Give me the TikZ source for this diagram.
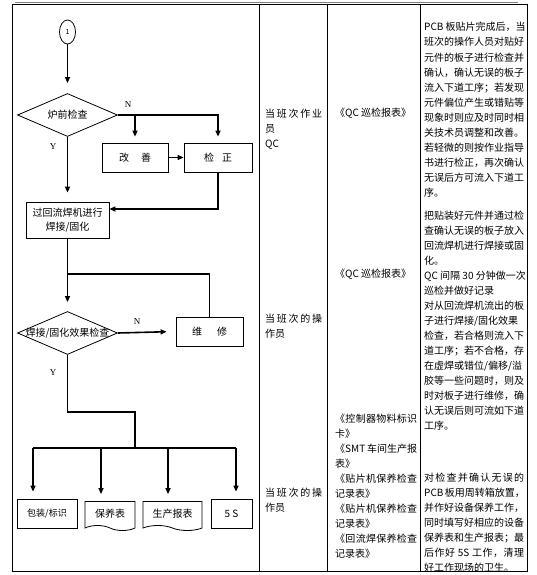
\documentclass[tikz,border=0pt]{standalone}
\usepackage{fontspec}
\setmainfont{Noto Sans CJK SC}
\newfontfamily\ynfont{Liberation Serif}
\usetikzlibrary{arrows.meta,shapes.geometric,shapes.symbols}
\makeatletter
\newcommand{\spreadto}[2]{\makebox[#1][s]{\@tfor\spreaditem:=#2\do{\spreaditem\hfil}\unskip}}
\makeatother

\begin{document}
\begin{tikzpicture}[x=1pt,y=-1pt,
        every node/.style={font=\fontsize{10}{15}\selectfont},
        flow/.style={line width=1.6pt},
        arr/.style={flow,-{Triangle[length=6pt,width=5pt]}},
        box/.style={draw,line width=0.8pt,minimum height=29pt,inner sep=0pt},
        doc/.style={box,tape,tape bend top=none,tape bend bottom=out and in,tape bend height=5pt},
        dec/.style={draw,line width=0.8pt,diamond,aspect=2.3,minimum width=100pt,minimum height=43pt,inner sep=0pt},
        ynlabel/.style={font=\ynfont\fontsize{9}{9}\selectfont},
        cell/.style={anchor=base west,align=left,inner sep=0pt}]
        \useasboundingbox (0,0) rectangle (537,575);

        % table frame
        \draw[gray,line width=1.5pt] (15,2.5) -- (518,2.5);
        \draw[line width=0.8pt] (12,4.5) rectangle (527,571);
        \foreach \x in {259,327,420}
            \draw[line width=0.8pt] (\x,4.5) -- (\x,571);

        % flow chart
        \node[ellipse,draw,line width=0.8pt,minimum width=16pt,minimum height=24pt,inner sep=0pt,font=\fontsize{7}{7}\selectfont] (start) at (67.5,32) {1};
        \node[dec] (chk1) at (67.5,115) {炉前检查};
        \node[box,minimum width=66pt] (fix) at (135,157.5) {改\hspace{12pt}善};
        \node[box,minimum width=68pt] (corr) at (218,157.5) {检\hspace{8pt}正};
        \node[box,minimum width=83pt,minimum height=36pt,align=center,font=\fontsize{10}{14}\selectfont] (reflow) at (67.5,220) {过回流焊机进行\\焊接/固化};
        \node[dec] (chk2) at (67.5,333) {\makebox[0pt]{焊接/固化效果检查}};
        \node[box,minimum width=67pt] (repair) at (209.5,331.5) {维\hspace{15pt}修};
        \node[box,minimum width=60pt,font=\fontsize{9}{9}\selectfont] (pack) at (47,513.5) {包装/标识};
        \node[doc,minimum width=50pt] (maint) at (110,513.5) {保养表};
        \node[doc,minimum width=59pt] (prod) at (172.5,513.5) {生产报表};
        \node[box,minimum width=41pt] (fives) at (231.5,513.5) {5 S};

        \node[ynlabel] (n1) at (128,105) {N};
        \node[ynlabel] (y1) at (53,147) {Y};
        \node[ynlabel] (n2) at (137,322) {N};
        \node[ynlabel] (y2) at (53,373) {Y};

        \draw[arr,shorten >=10pt] (start) -- (chk1);
        \draw[arr,shorten >=6pt] (chk1.east) -| (corr.north);
        \draw[arr,shorten >=6pt] (chk1.east -| fix.north) -- (fix.north);
        \draw[arr] (fix) -- (corr);
        \draw[arr,shorten >=9pt] (chk1) -- (reflow);
        \draw[arr] (corr.south) |- ([yshift=11pt]reflow.east);
        \draw[arr,shorten >=9pt] (reflow) -- (chk2);
        \coordinate (join) at (67.5,274);
        \draw[flow] (repair.north) |- (join);
        \draw[arr,shorten >=9pt] (chk2.east) -- (repair.west);

        \coordinate (turn) at (135,412);
        \coordinate (bus) at (135,448);
        \draw[flow] (chk2.south) |- (turn) -- (bus);
        \coordinate (t1) at ([xshift=-14pt]pack.north);
        \coordinate (t2) at ([xshift=-9pt]maint.north);
        \coordinate (t3) at ([xshift=-4.5pt]prod.north);
        \coordinate (t4) at ([xshift=4.5pt]fives.north);
        \draw[flow] (t1 |- bus) -- (t4 |- bus);
        \foreach \t in {t1,t2,t3,t4}
            \draw[arr,shorten >=7pt] (\t |- bus) -- (\t);

        % who (base = last line)
        \node[cell] (role1) at (265,147) {\spreadto{57pt}{当班次作业}\\员\\QC};
        \node[cell] (role2) at (265,337) {\spreadto{57pt}{当班次的操}\\作员};
        \node[cell] (role3) at (265,511) {\spreadto{57pt}{当班次的操}\\作员};

        % records
        \node[cell] (form1) at (335,117) {《QC 巡检报表》};
        \node[cell] (form2) at (335,277) {《QC 巡检报表》};
        \node[cell] (form3) at (335,557) {\spreadto{82pt}{《控制器物料标识}\\卡》\\\spreadto{82pt}{《{SMT\ }车间生产报}\\表》\\\spreadto{82pt}{《贴片机保养检查}\\记录表》\\\spreadto{82pt}{《贴片机保养检查}\\记录表》\\\spreadto{82pt}{《回流焊保养检查}\\记录表》};

        % notes
        \node[cell] (note1) at (424,196) {PCB 板贴片完成后，当\\班次的操作人员对贴好\\元件的板子进行检查并\\确认，确认无误的板子\\流入下道工序；若发现\\元件偏位产生或错贴等\\现象时则应及时同时相\\关技术员调整和改善。\\若轻微的则按作业指导\\书进行检正，再次确认\\无误后方可流入下道工\\序。};
        \node[cell] (note2) at (424,429) {把贴装好元件并通过检\\查确认无误的板子放入\\回流焊机进行焊接或固\\化。\\QC 间隔 30 分钟做一次\\巡检并做好记录\\对从回流焊机流出的板\\子进行焊接/固化效果\\检查，若合格则流入下\\道工序；若不合格，存\\在虚焊或错位/偏移/溢\\胶等一些问题时，则及\\时对板子进行维修，确\\认无误后则可流如下道\\工序。};
        \node[cell] (note3) at (424,571) {\spreadto{100pt}{对检查并确认无误的}\\\spreadto{100pt}{{PCB\ }板用周转箱放置，}\\\spreadto{100pt}{并作好设备保养工作，}\\同时填写好相应的设备\\\spreadto{100pt}{保养表和生产报表；最}\\\spreadto{100pt}{后作好{\ 5S\ }工作，清理}\\好工作现场的卫生。};
    \end{tikzpicture}
\end{document}
